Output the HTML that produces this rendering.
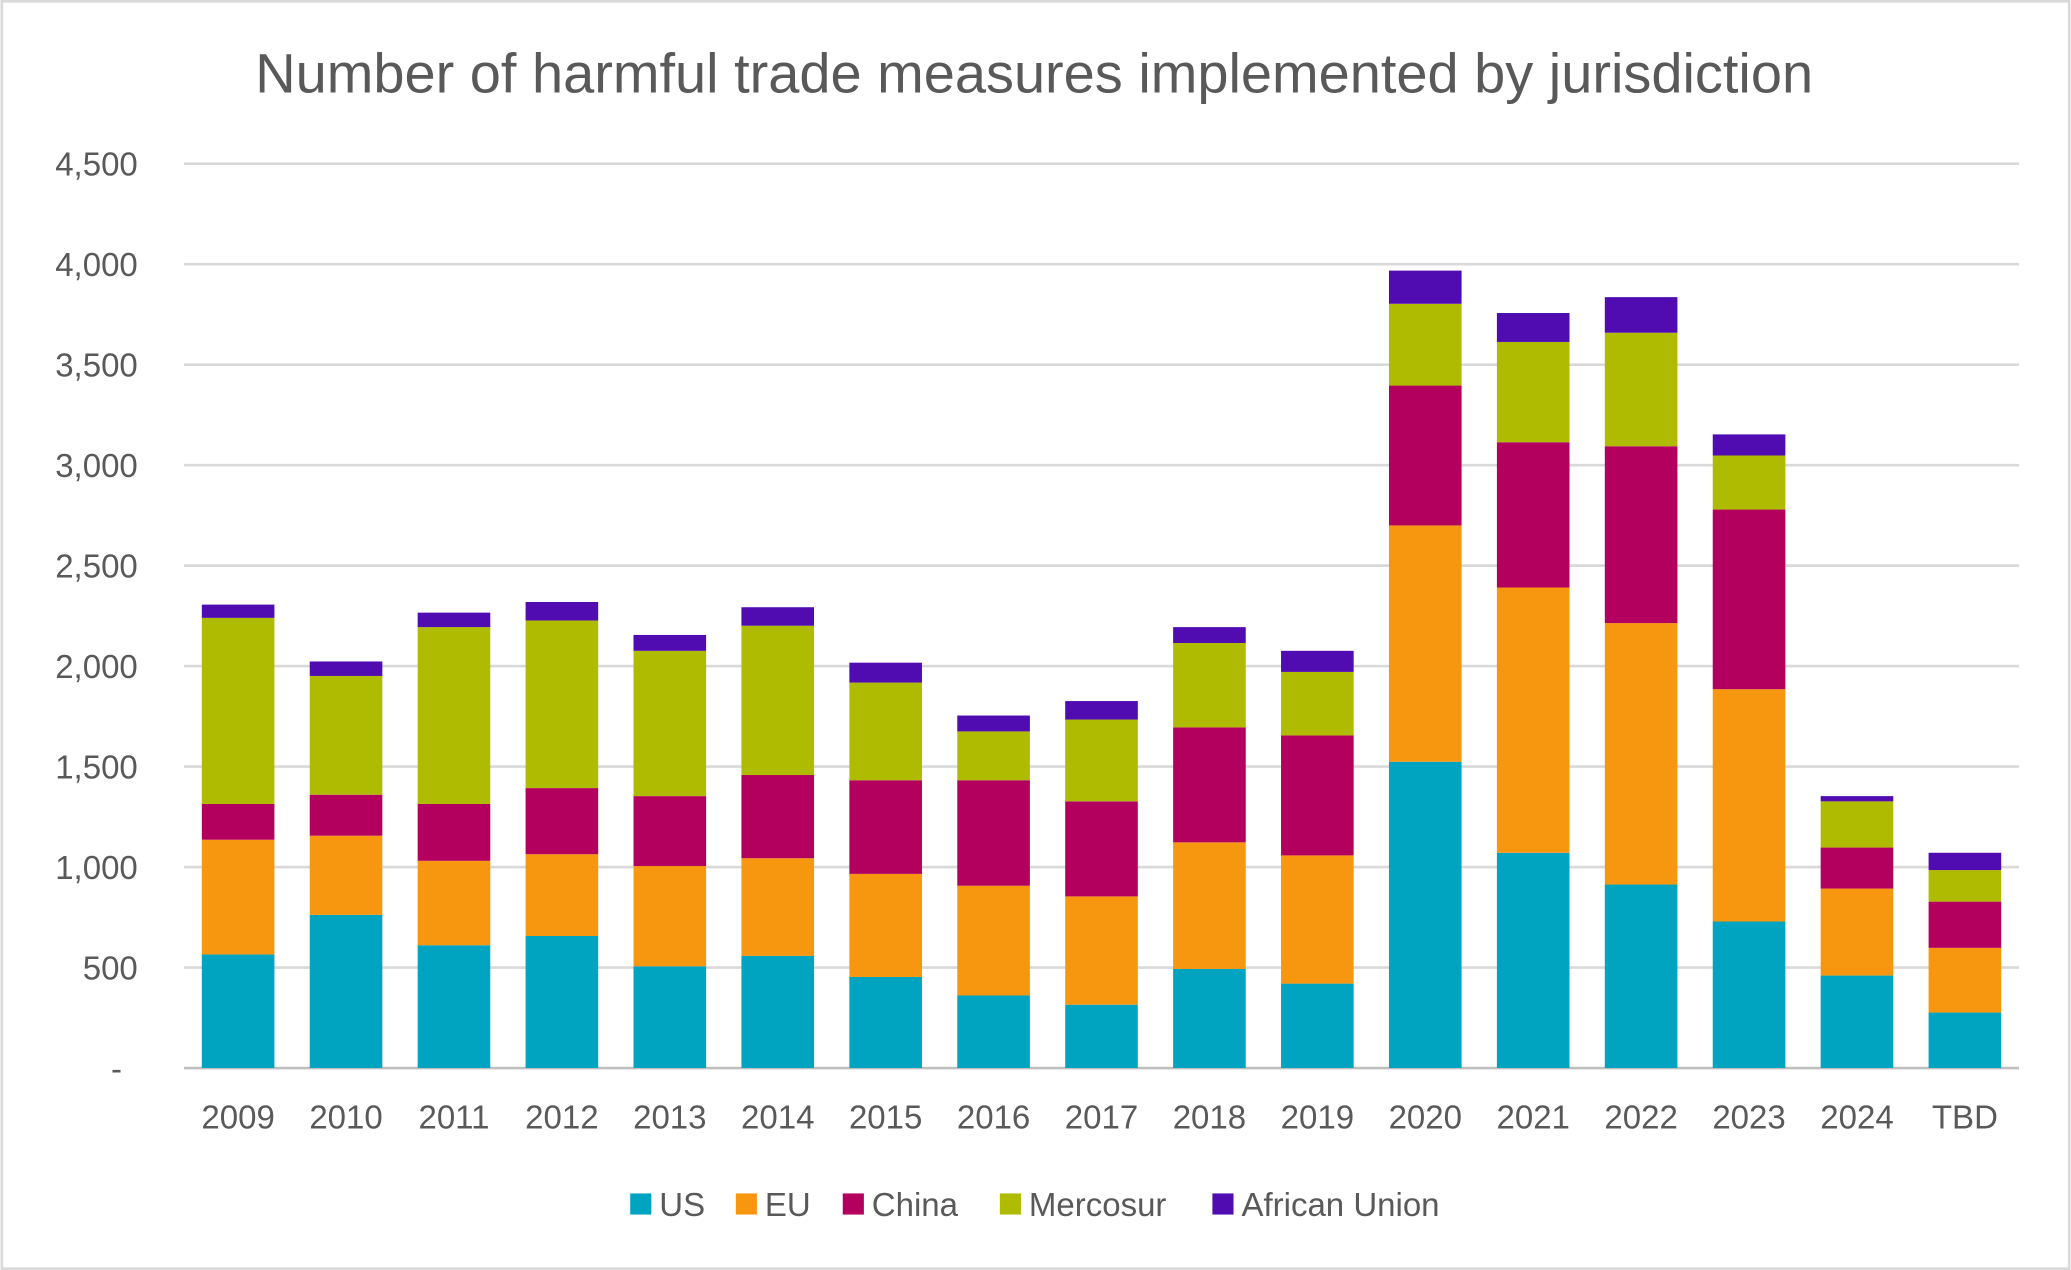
<!DOCTYPE html>
<html><head><meta charset="utf-8"><style>
html,body{margin:0;padding:0;background:#fff;}
svg{display:block;}
text{font-family:"Liberation Sans",sans-serif;fill:#595959;}
</style></head><body>
<svg id="chart" width="2071" height="1270" viewBox="0 0 1568 962" xmlns="http://www.w3.org/2000/svg">
<rect x="1" y="1" width="1566" height="960" fill="#fff" stroke="#d9d9d9" stroke-width="2"/>
<text x="783" y="70" text-anchor="middle" font-size="42" textLength="1180" lengthAdjust="spacingAndGlyphs">Number of harmful trade measures implemented by jurisdiction</text>
<g id="grid"></g>
<g id="yaxis"></g>
<g id="bars"></g>
<g id="xaxis"></g>
<g id="legend"></g>
</svg>
<script>
const categories=["2009","2010","2011","2012","2013","2014","2015","2016","2017","2018","2019","2020","2021","2022","2023","2024","TBD"];
const seriesNames=["US","EU","China","Mercosur","African Union"];
const usValues=[565,762,611,657,506,558,453,361,315,493,420,1524,1071,913,729,460,276];
const euValues=[571,394,420,407,499,486,513,546,539,630,638,1176,1320,1301,1156,433,322];
const chinaValues=[178,204,283,329,348,414,466,525,473,572,597,696,723,880,894,204,230];
const mercosurValues=[926,591,880,834,723,743,486,243,407,420,316,407,499,565,269,230,157];
const auValues=[66,72,72,92,79,92,99,79,92,79,105,165,144,177,105,26,86];
const yTicks=[0,500,1000,1500,2000,2500,3000,3500,4000,4500];
const yTickLabels=["-","500","1,000","1,500","2,000","2,500","3,000","3,500","4,000","4,500"];
const colors=["#00a3c0","#f7960f","#b3005e","#aebb00","#500bb1"];

const NS="http://www.w3.org/2000/svg";
const y0=809,yTop=124,yMax=4500;
const yScale=v=>y0-(v/yMax)*(y0-yTop);
const x0=180,step=81.75,bw=55;
const xScale=i=>x0+i*step;
function mk(tag,attrs,parent){const e=document.createElementNS(NS,tag);for(const k in attrs)e.setAttribute(k,attrs[k]);parent.appendChild(e);return e;}
const grid=document.getElementById('grid'),ya=document.getElementById('yaxis'),bars=document.getElementById('bars'),xa=document.getElementById('xaxis'),lg=document.getElementById('legend');
yTicks.forEach((t,i)=>{
  const l=mk('line',{x1:139,x2:1529,y1:yScale(t),y2:yScale(t),stroke:t===0?'#bfbfbf':'#d9d9d9','stroke-width':2},grid);
  
  
  const tx=mk('text',{x:t===0?92:104,y:yScale(t)+9,'text-anchor':'end','font-size':25},ya);
  tx.textContent=yTickLabels[i];
  
  
});
const all=[usValues,euValues,chinaValues,mercosurValues,auValues];
categories.forEach((c,i)=>{
  let cum=0;
  all.forEach((arr,s)=>{
    const v=arr[i];
    const r=mk('rect',{x:xScale(i)-bw/2,y:yScale(cum+v),width:bw,height:yScale(cum)-yScale(cum+v),fill:colors[s]},bars);
    
    
    cum+=v;
  });
  const tx=mk('text',{x:xScale(i),y:855,'text-anchor':'middle','font-size':25},xa);
  tx.textContent=c;
  
  
});
const legX=[477,557,638,757,918];
seriesNames.forEach((n,s)=>{
  const g=mk('g',{},lg);
  
  
  mk('rect',{x:legX[s],y:904,width:16,height:16,fill:colors[s]},g);
  const t=mk('text',{x:legX[s]+22,y:921,'font-size':25},g);
  t.textContent=n;
});
</script>
</body></html>
